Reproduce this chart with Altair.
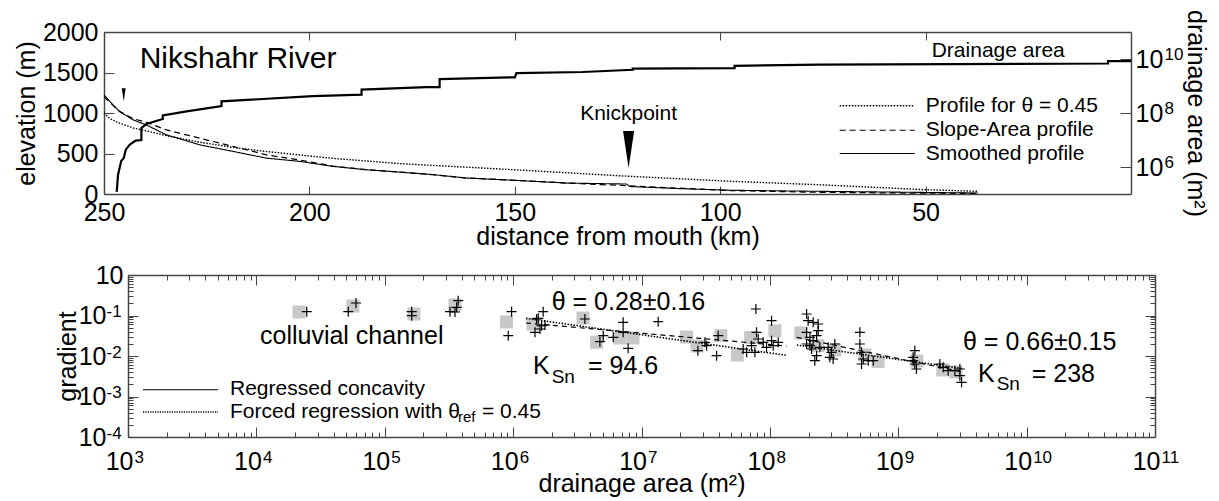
import altair as alt
import pandas as pd

FONT = "Liberation Sans"

# ---------------- long profile of the river ----------------
# distance from mouth (km) and elevation (m) of the three profiles
smooth_km = [250, 247.8, 246.2, 242.9, 239.7, 234.8, 226.7, 218.6, 210.5, 202.4, 194.3, 186.1,
             178, 170, 161.8, 150, 137.4, 122.8, 122.0, 109.1, 97.0, 75.8, 55, 37.3]
smooth_elev = [1222, 1099, 1018, 915, 853, 730, 607, 526, 443, 403, 341, 299,
               270, 240, 197, 169, 135, 123, 92, 65, 46, 33, 22, 12]

sa_km = [250, 247.8, 246.2, 242.9, 239.7, 234.8, 226.7, 218.6, 210.5, 202.4, 194.3, 186.1,
         178, 170, 161.8, 150, 137.4, 124, 115, 109.1, 97, 75.8, 55, 37.3]
sa_elev = [1200, 1095, 1020, 930, 886, 791, 689, 587, 484, 420, 345, 300,
           270, 238, 197, 169, 135, 105, 82, 70, 41, 21, 12, 8]

theta_km = [250, 248.6, 246.2, 242.9, 238.9, 234.8, 226.7, 218.6, 210.5, 194.3, 178, 150,
            122, 97, 75.8, 50, 37.3]
theta_elev = [1000, 930, 875, 815, 770, 720, 640, 575, 525, 440, 375, 299,
              218, 156, 114, 53, 33]

# drainage area along the channel (stepped line on the right-hand axis)
area_km = [246.9, 246.6, 245.8, 245.2, 244.7, 243.7, 242.3, 240.9, 240.9, 239.7, 235.7, 235.7,
           229.9, 221.4, 221.4, 199.2, 187.3, 187.3, 171.5, 168.3, 168.3, 150.0, 149.6, 133.5,
           121.3, 121.3, 96.5, 96.5, 75.8, 5.6, 5.6, 0.0]
area_m2 = [1.2e5, 5.0e5, 1.7e6, 2.1e6, 4.4e6, 6.8e6, 9.5e6, 1.0e7, 2.8e7, 3.9e7, 6.0e7, 8.1e7,
           1.15e8, 1.8e8, 2.7e8, 4.2e8, 4.8e8, 7.4e8, 9.1e8, 9.1e8, 1.8e9, 2.1e9, 3.0e9, 3.3e9,
           4.0e9, 4.4e9, 4.6e9, 5.6e9, 6.2e9, 6.8e9, 8.3e9, 8.3e9]

profile_names = ["Profile for θ = 0.45", "Slope-Area profile", "Smoothed profile"]
profile_dash = [[1.5, 1.5], [6, 4], [1, 0]]
profile_width = [1.4, 1.1, 1.1]

dist_ticks = [250, 200, 150, 100, 50]
elev_ticks = [0, 500, 1000, 1500, 2000]
area_ticks_top = [1e6, 1e8, 1e10]
area_exp_top = ["6", "8", "10"]

# knickpoint markers (distance, elevation of arrow tip)
knick_km = [122.3]
knick_tip_elev = [320]
upper_knick_km = [245.2]
upper_knick_tip_elev = [1145]

# ---------------- slope-area data (log10 values) ----------------
# binned means: colluvial reach and fluvial reach
colluvial_bin_log_area = [4.332, 4.752, 5.227, 5.547]
colluvial_bin_log_grad = [-0.914, -0.765, -0.963, -0.741]
fluvial_bin_log_area = [5.948, 6.154, 6.544, 6.650, 6.832, 6.933, 7.351, 7.432,
                        7.618, 7.747, 7.850, 8.039, 8.241, 8.374, 8.506, 8.740, 8.843, 9.145, 9.347, 9.449]
fluvial_bin_log_grad = [-1.160, -1.210, -1.062, -1.662, -1.556, -1.556, -1.531, -1.753,
                        -1.499, -1.975, -1.543, -1.375, -1.432, -1.746, -1.852, -1.975, -2.136, -2.123, -2.346, -2.395]

# individual slope-area measurements
colluvial_pt_log_area = [4.392, 4.716, 4.776, 5.210, 5.210, 5.508, 5.560, 5.572, 5.547]
colluvial_pt_log_grad = [-0.906, -0.906, -0.691, -0.906, -1.005, -0.906, -0.798, -0.635, -0.914]
fluvial_pt_log_area = [5.988, 5.962, 6.170, 6.196, 6.234, 6.222, 6.209, 6.248, 6.183, 6.559, 6.857, 7.130,
                       6.676, 6.702, 6.780, 6.857, 6.896,
                       7.439, 7.494, 7.507, 7.585, 7.597, 7.792, 7.819, 7.857, 7.891, 7.896, 7.883, 7.909,
                       7.948, 7.974, 8.013, 8.013, 8.026, 8.065,
                       8.286, 8.298, 8.337, 8.376, 8.286, 8.312, 8.286, 8.337, 8.364, 8.325, 8.364, 8.350,
                       8.312, 8.389, 8.376,
                       8.454, 8.480, 8.467, 8.506, 8.493,
                       8.701, 8.701, 8.714, 8.727, 8.766, 8.805, 8.714,
                       9.129, 9.116, 9.129, 9.142, 9.116,
                       9.324, 9.350, 9.389, 9.441, 9.480, 9.480, 9.493]
fluvial_pt_log_grad = [-0.906, -1.499, -1.415, -1.069, -0.906, -1.252, -1.333, -1.235, -1.086, -1.086, -1.168, -1.153,
                       -1.647, -1.499, -1.538, -1.415, -1.810,
                       -1.869, -1.662, -1.746, -1.993, -1.499, -1.827, -1.909, -1.746, -0.840, -1.415, -1.909, -1.580,
                       -1.662, -1.785, -1.128, -1.622, -1.746, -1.662,
                       -0.963, -1.128, -1.168, -1.210, -1.415, -1.538, -1.704, -1.622, -1.499, -1.827, -1.993, -2.116,
                       -1.746, -1.785, -1.375,
                       -1.785, -1.909, -2.032, -1.704, -2.074,
                       -1.415, -1.704, -1.909, -2.074, -2.116, -2.116, -2.198,
                       -1.869, -2.116, -2.198, -2.321, -2.032,
                       -2.198, -2.279, -2.363, -2.363, -2.321, -2.486, -2.649]

# regression segments (start, end) in log10 units
reg_log_area = [[6.10, 8.13], [8.21, 9.50]]
reg_log_grad = [[-1.185, -1.753], [-1.54, -2.395]]
ref_log_area = [[6.10, 8.13], [8.21, 9.50]]
ref_log_grad = [[-1.07, -1.984], [-1.73, -2.31]]

area_major = [1e3, 1e4, 1e5, 1e6, 1e7, 1e8, 1e9, 1e10, 1e11]
area_exp = ["3", "4", "5", "6", "7", "8", "9", "10", "11"]
grad_major = [1e-4, 1e-3, 1e-2, 1e-1, 1]
grad_exp = ["-4", "-3", "-2", "-1"]

area_minor = [m * 10.0 ** e for e in range(3, 11) for m in range(2, 10)]
grad_minor = [m * 10.0 ** e for e in range(-4, 0) for m in range(2, 10)]

# ---------------- tables ----------------
profile_df = pd.concat([
    pd.DataFrame({"km": theta_km, "elev": theta_elev, "series": profile_names[0]}),
    pd.DataFrame({"km": sa_km, "elev": sa_elev, "series": profile_names[1]}),
    pd.DataFrame({"km": smooth_km, "elev": smooth_elev, "series": profile_names[2]}),
], ignore_index=True)
area_df = pd.DataFrame({"km": area_km, "area": area_m2, "i": range(len(area_km))})
knick_df = pd.DataFrame({"km": knick_km, "elev": knick_tip_elev})
upper_knick_df = pd.DataFrame({"km": upper_knick_km, "elev": upper_knick_tip_elev})


def from_log(log_a, log_g):
    return pd.DataFrame({"area": [10 ** v for v in log_a], "grad": [10 ** v for v in log_g]})


colluvial_bins = from_log(colluvial_bin_log_area, colluvial_bin_log_grad)
fluvial_bins = from_log(fluvial_bin_log_area, fluvial_bin_log_grad)
colluvial_pts = from_log(colluvial_pt_log_area, colluvial_pt_log_grad)
fluvial_pts = from_log(fluvial_pt_log_area, fluvial_pt_log_grad)


def segments(log_a, log_g):
    rows = []
    for s, (aa, gg) in enumerate(zip(log_a, log_g)):
        for a, g in zip(aa, gg):
            rows.append({"seg": s, "area": 10 ** a, "grad": 10 ** g})
    return pd.DataFrame(rows)


reg_df = segments(reg_log_area, reg_log_grad)
ref_df = segments(ref_log_area, ref_log_grad)


def lab_expr(labels, expr_index):
    arr = "[" + ",".join("'" + s + "'" for s in labels) + "]"
    return arr + "[" + expr_index + "]"


LOG10 = "log(datum.value)/LN10"
TRI = "M-0.3,-2L0.3,-2L0,0Z"
PLUS = "M-1,0L1,0M0,-1L0,1"
EXP_SIZE = 17

TOP_W, TOP_H = 1027, 162
BOT_W, BOT_H = 1051, 162
SHIFT = 24  # lower frame starts this far right of the upper one


def note(text, x, y, size, align="left"):
    return alt.Chart(pd.DataFrame({"t": [text]})).mark_text(
        font=FONT, fontSize=size, align=align, baseline="middle", color="black"
    ).encode(x=alt.value(x), y=alt.value(y), text="t:N")


def key_line(x1, x2, y, dash, width=1.1):
    return alt.Chart(pd.DataFrame({"k": [0]})).mark_rule(
        color="black", strokeWidth=width, strokeDash=dash
    ).encode(x=alt.value(x1), x2=alt.value(x2), y=alt.value(y))


# ---------------- upper panel ----------------
dist_scale = alt.Scale(domain=[0, 250], reverse=True, nice=False, zero=False)
elev_scale = alt.Scale(domain=[0, 2000], nice=False, zero=False)
area_scale = alt.Scale(type="log", domain=[1e5, 1e11], nice=False)

profiles = alt.Chart(profile_df).mark_line(color="black").encode(
    x=alt.X("km:Q", scale=dist_scale,
            axis=alt.Axis(orient="bottom", values=dist_ticks, format="d", tickSize={"expr": "-8"},
                          labelPadding=14, title="distance from mouth (km)",
                          titleY=50, titleBaseline="alphabetic")),
    y=alt.Y("elev:Q", scale=elev_scale,
            axis=alt.Axis(orient="left", values=elev_ticks, format="d", tickSize={"expr": "-10"},
                          labelPadding=16, title="elevation (m)", titleX=-70,
                          titleBaseline="alphabetic")),
    strokeDash=alt.StrokeDash("series:N", scale=alt.Scale(domain=profile_names, range=profile_dash),
                              legend=None),
    strokeWidth=alt.StrokeWidth("series:N", scale=alt.Scale(domain=profile_names, range=profile_width),
                                legend=None),
)

knick = alt.Chart(knick_df).mark_point(
    shape=TRI, size=1369, filled=True, color="black", opacity=1, strokeWidth=0
).encode(
    x=alt.X("km:Q", axis=alt.Axis(orient="top", values=dist_ticks, labels=False,
                                  tickSize={"expr": "-8"}, title=None)),
    y=alt.Y("elev:Q", scale=elev_scale, axis=None),
)

upper_knick = alt.Chart(upper_knick_df).mark_point(
    shape=TRI, size=169, filled=True, color="black", opacity=1, strokeWidth=0
).encode(x=alt.X("km:Q", axis=None), y=alt.Y("elev:Q", scale=elev_scale, axis=None))

knick_label = alt.Chart(knick_df).mark_text(
    font=FONT, fontSize=21, align="center", baseline="middle", color="black"
).encode(x=alt.X("km:Q", axis=None), y=alt.value(81.5), text=alt.value("Knickpoint"))

area_line = alt.Chart(area_df).mark_line(color="black", strokeWidth=2.2).encode(
    x=alt.X("km:Q", axis=None),
    y=alt.Y("area:Q", scale=area_scale,
            axis=alt.Axis(orient="right", values=area_ticks_top, labelExpr="'10'", labelAlign="left",
                          tickSize={"expr": "-11"}, labelPadding=15, title="drainage area (m²)",
                          titleX=56, titleBaseline="alphabetic")),
    order="i:Q",
)

# exponents of the drainage-area tick labels
area_exp_axis = alt.Chart(area_df).mark_line(strokeOpacity=0).encode(
    x=alt.X("km:Q", axis=None),
    y=alt.Y("area:Q", scale=area_scale,
            axis=alt.Axis(orient="right", values=area_ticks_top,
                          labelExpr=lab_expr(area_exp_top, "round((" + LOG10 + " - 6)/2)"),
                          ticks=False, domain=False, labelAlign="left", labelFontSize=EXP_SIZE,
                          labelPadding=33, labelOffset=-5, title=None)),
    order="i:Q",
)

top_layers = [profiles, knick, upper_knick, area_line, area_exp_axis, knick_label,
              note("Nikshahr River", 35.7, 26.5, 30),
              note("Drainage area", 827.7, 18.5, 21)]
for name, dash, w, ky in zip(profile_names, profile_dash, profile_width, [73.8, 98.2, 121.5]):
    top_layers.append(key_line(735.7, 810.7, ky, dash, w))
    top_layers.append(note(name, 821.7, ky, 21))

upper = alt.layer(*top_layers).resolve_scale(y="independent").resolve_axis(
    x="independent").properties(width=TOP_W, height=TOP_H)

# ---------------- lower panel ----------------
x_log = alt.Scale(type="log", domain=[1e3, 1e11], range=[SHIFT, BOT_W], nice=False)
y_log = alt.Scale(type="log", domain=[1e-4, 1], nice=False)
left_off = {"expr": str(-SHIFT)}


def tick_axis(orient, values, size, domain, offset=None):
    kw = dict(orient=orient, values=values, labels=False, domain=domain,
              tickSize={"expr": str(-size)}, title=None)
    if offset is not None:
        kw["offset"] = offset
    return alt.Axis(**kw)


fluvial_squares = alt.Chart(fluvial_bins).mark_square(size=169, color="#c8c8c8", opacity=1).encode(
    x=alt.X("area:Q", scale=x_log,
            axis=alt.Axis(orient="bottom", values=area_major, labelExpr="'10'", labelAlign="right",
                          labelOffset=5, tickSize={"expr": "-10"}, labelPadding=22,
                          title="drainage area (m²)", titleY=54, titleBaseline="alphabetic")),
    y=alt.Y("grad:Q", scale=y_log,
            axis=alt.Axis(orient="left", offset=left_off, values=grad_major,
                          labelExpr="datum.value < 0.5 ? '10' : ''",
                          tickSize={"expr": "-10"}, labelPadding=32, title="gradient",
                          titleX=-53, titleBaseline="alphabetic")),
)

colluvial_squares = alt.Chart(colluvial_bins).mark_square(size=169, color="#c8c8c8", opacity=1).encode(
    x=alt.X("area:Q",
            axis=alt.Axis(orient="bottom", values=area_major,
                          labelExpr=lab_expr(area_exp, "round(" + LOG10 + ") - 3"),
                          ticks=False, domain=False, labelAlign="left", labelOffset=6,
                          labelFontSize=EXP_SIZE, labelPadding=12.5, title=None)),
    y=alt.Y("grad:Q",
            axis=alt.Axis(orient="left", offset=left_off, values=grad_major[:-1],
                          labelExpr=lab_expr(grad_exp, "round(" + LOG10 + ") + 4"),
                          ticks=False, domain=False, labelAlign="left", labelOffset=-4,
                          labelFontSize=EXP_SIZE, labelPadding=22, title=None)),
)

reg_lines = alt.Chart(reg_df).mark_line(color="black", strokeWidth=1.2, strokeDash=[5, 4]).encode(
    x=alt.X("area:Q", axis=tick_axis("top", area_major, 10, True)),
    y=alt.Y("grad:Q", axis=tick_axis("right", grad_major, 10, True)),
    detail="seg:N",
)

ref_lines = alt.Chart(ref_df).mark_line(color="black", strokeWidth=1.6, strokeDash=[1.5, 1.5]).encode(
    x=alt.X("area:Q", axis=tick_axis("top", area_minor, 5, False)),
    y=alt.Y("grad:Q", axis=tick_axis("right", grad_minor, 5, False)),
    detail="seg:N",
)

fluvial_crosses = alt.Chart(fluvial_pts).mark_point(
    shape=PLUS, size=100, filled=False, color="black", strokeWidth=1.2, opacity=1
).encode(
    x=alt.X("area:Q", axis=tick_axis("bottom", area_minor, 5, False)),
    y=alt.Y("grad:Q", axis=tick_axis("left", grad_minor, 5, False, left_off)),
)

colluvial_crosses = alt.Chart(colluvial_pts).mark_point(
    shape=PLUS, size=100, filled=False, color="black", strokeWidth=1.2, opacity=1
).encode(
    x=alt.X("area:Q", axis=None),
    y=alt.Y("grad:Q",
            axis=alt.Axis(orient="left", offset=left_off, values=grad_major[-1:], labelExpr="'10'",
                          ticks=False, domain=False, labelPadding=5, title=None)),
)

lower = alt.layer(
    fluvial_squares, colluvial_squares, reg_lines, ref_lines, fluvial_crosses, colluvial_crosses,
    note("colluvial channel", 156, 61, 25),
    note("θ = 0.28±0.16", 447.7, 27, 25),
    note("K", 429, 91, 25), note("Sn", 447.7, 102, 19), note("= 94.6", 484, 91, 25),
    note("θ = 0.66±0.15", 859, 67, 25),
    note("K", 874, 99, 25), note("Sn", 892.7, 109, 19), note("= 238", 927.7, 99, 25),
    key_line(39, 114, 114.7, [1, 0]),
    key_line(39, 114, 137, [1.2, 1.2], 1.4),
    note("Regressed concavity", 126, 114, 21),
    note("Forced regression with θ", 126, 137, 21),
    note("ref", 354, 142, 15),
    note("= 0.45", 378, 137, 21),
).resolve_axis(x="independent", y="independent").properties(width=BOT_W, height=BOT_H)

chart = alt.vconcat(upper, lower, spacing=14).properties(
    padding={"left": 14, "top": 9, "right": 4, "bottom": 4}
).configure_view(stroke=None).configure_axis(
    labelFont=FONT, titleFont=FONT, labelFontSize=25, titleFontSize=25,
    titleFontWeight="normal", labelColor="black", titleColor="black",
    domainColor="#444", tickColor="#444", domainWidth=1.5, tickWidth=1,
    grid=False, labelFlush=False, labelOverlap=False,
)

chart.save("out.html", embed_options={"renderer": "svg", "actions": False})
